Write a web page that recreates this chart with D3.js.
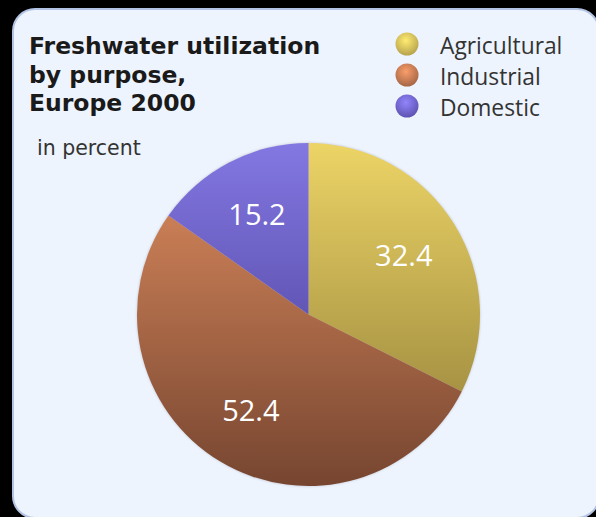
<!DOCTYPE html>
<html>
<head>
<meta charset="utf-8">
<script src="https://cdn.jsdelivr.net/npm/d3@7"></script>
<style>
  html, body { margin: 0; padding: 0; background: #000; }
  svg { display: block; }
</style>
</head>
<body>
<script>
'use strict';

// chart data
const categories = ["Agricultural", "Industrial", "Domestic"];
const values = [32.4, 52.4, 15.2];
const titleLines = ["Freshwater utilization", "by purpose,", "Europe 2000"];
const unitLabel = "in percent";

// colours: top / bottom of the pie shading, and legend dots
const topColors = ["#ecd466", "#e08e60", "#8377e2"];
const bottomColors = ["#8c7a36", "#764530", "#40368a"];

(function() {
  const width = 596, height = 517;
  const cx = 308.5, cy = 314.5, radius = 171.5;

  const svg = d3.select('body').append('svg')
    .attr('width', width)
    .attr('height', height);

  const defs = svg.append('defs');

  // panel
  svg.append('rect')
    .attr('x', 13).attr('y', 9)
    .attr('width', 586).attr('height', 509)
    .attr('rx', 22).attr('ry', 22)
    .attr('fill', '#eef4fd')
    .attr('stroke', '#b3c3e3')
    .attr('stroke-width', 2);

  // vertical gradients per slice, spanning the whole pie (group coords)
  categories.forEach((c, i) => {
    const g = defs.append('linearGradient')
      .attr('id', 'grad' + i)
      .attr('gradientUnits', 'userSpaceOnUse')
      .attr('x1', 0).attr('y1', -radius)
      .attr('x2', 0).attr('y2', radius);
    g.append('stop').attr('offset', '0%').attr('stop-color', topColors[i]);
    g.append('stop').attr('offset', '100%').attr('stop-color', bottomColors[i]);

    const r = defs.append('radialGradient')
      .attr('id', 'dot' + i)
      .attr('cx', '45%').attr('cy', '35%').attr('r', '65%');
    r.append('stop').attr('offset', '0%').attr('stop-color', d3.color(topColors[i]).brighter(0.3));
    r.append('stop').attr('offset', '100%').attr('stop-color', d3.interpolateRgb(topColors[i], bottomColors[i])(0.55));
  });

  const blur = defs.append('filter').attr('id', 'soft')
    .attr('x', '-10%').attr('y', '-10%').attr('width', '120%').attr('height', '120%');
  blur.append('feGaussianBlur').attr('stdDeviation', 1.2);

  const pie = d3.pie().sort(null).value(d => d);
  const arcs = pie(values);
  const arc = d3.arc().innerRadius(0).outerRadius(radius);
  const labelArc = d3.arc().innerRadius(112).outerRadius(112);

  const pieG = svg.append('g')
    .attr('transform', `translate(${cx},${cy})`);

  // soft halo
  pieG.append('circle')
    .attr('r', radius + 0.5)
    .attr('fill', '#8a8a9a')
    .attr('opacity', 0.35)
    .attr('filter', 'url(#soft)');

  pieG.selectAll('path.slice')
    .data(arcs)
    .enter()
    .append('path')
      .attr('class', 'slice')
      .attr('d', arc)
      .attr('fill', (d, i) => `url(#grad${i})`)
      .attr('stroke', 'none');

  pieG.selectAll('text.val')
    .data(arcs)
    .enter()
    .append('text')
      .attr('class', 'val')
      .attr('transform', d => `translate(${labelArc.centroid(d)})`)
      .attr('dy', '0.36em')
      .attr('text-anchor', 'middle')
      .attr('font-family', '"Open Sans", sans-serif')
      .attr('font-size', '29px')
      .attr('fill', '#ffffff')
      .text(d => d3.format('.1f')(d.data));

  // title
  const title = svg.append('text')
    .attr('font-family', '"DejaVu Sans", sans-serif')
    .attr('font-weight', 'bold')
    .attr('font-size', '23.5px')
    .attr('fill', '#1a1a1a');
  titleLines.forEach((t, i) => {
    title.append('tspan')
      .attr('x', 29)
      .attr('y', 54 + i * 28.5)
      .text(t);
  });

  svg.append('text')
    .attr('x', 37).attr('y', 155)
    .attr('font-family', '"DejaVu Sans", sans-serif')
    .attr('font-size', '20.5px')
    .attr('fill', '#333')
    .text(unitLabel);

  // legend
  const legend = svg.selectAll('g.legend')
    .data(categories)
    .enter()
    .append('g')
      .attr('class', 'legend')
      .attr('transform', (d, i) => `translate(407, ${44 + i * 31})`);

  legend.append('circle')
    .attr('r', 11.5)
    .attr('fill', (d, i) => `url(#dot${i})`);

  legend.append('text')
    .attr('x', 33)
    .attr('y', 10)
    .attr('font-family', '"Open Sans", sans-serif')
    .attr('font-size', '22.8px')
    .attr('fill', '#333')
    .text(d => d);
})();
</script>
</body>
</html>
